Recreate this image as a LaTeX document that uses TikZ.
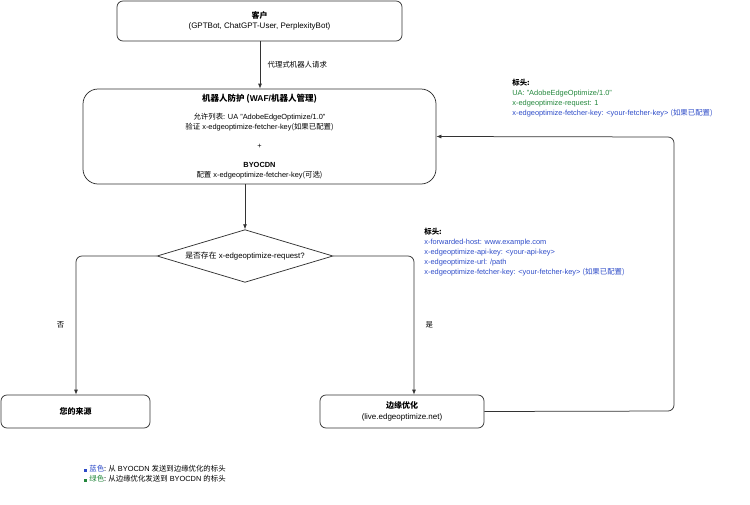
\documentclass[tikz,border=0pt]{standalone}
\usepackage{fontspec}
\setmainfont{Liberation Sans}
\newfontfamily\cjk{Noto Sans CJK SC}
\usetikzlibrary{shapes.geometric,arrows.meta}
\definecolor{hdrblue}{RGB}{45,75,200}
\definecolor{hdrgreen}{RGB}{35,135,60}
\tikzset{every picture/.style={line width=0.75pt}}
\tikzset{
  box/.style={draw=black!80,rounded corners=6pt,align=center,font=\fontsize{8}{10.5}\selectfont,inner sep=0pt},
  flow/.style={draw=black!80,-{Latex[length=5pt,width=4pt]},rounded corners=6pt},
  lbl/.style={font=\fontsize{7.4}{10}\selectfont,align=left,anchor=north west,inner sep=0pt},
}
\begin{document}
\begin{tikzpicture}[x=1pt,y=-1pt]
\useasboundingbox (0,0) rectangle (750,504);

% boxes
\node[box,minimum width=285pt,minimum height=40pt] (client) at (259.5,21) {{\cjk\bfseries 客户}\\(GPTBot, ChatGPT-User, PerplexityBot)};
\node[box,rounded corners=15pt,minimum width=353pt,minimum height=95pt] (waf) at (259.5,136.5) {};
\node[font=\fontsize{8.5}{10}\selectfont\bfseries] (waftitle) at (259.5,99) {{\cjk 机器人防护 (}WAF/{\cjk 机器人管理)}};
\node[align=center,font=\fontsize{7.4}{10}\selectfont] (waftext) at (259.5,146) {{\cjk 允许列表:} UA "AdobeEdgeOptimize/1.0"\\{\cjk 验证} x-edgeoptimize-fetcher-key{\cjk (如果已配置)}\\[9pt]+\\[9pt]{\bfseries BYOCDN}\\{\cjk 配置} x-edgeoptimize-fetcher-key{\cjk (可选)}};
\node[draw=black!80,diamond,aspect=2.85,inner sep=1pt,minimum width=176pt,font=\fontsize{7.8}{9}\selectfont] (check) at (245,256) {{\cjk 是否存在} x-edgeoptimize-request?};
\node[box,minimum width=149pt,minimum height=33pt] (origin) at (75.5,411.5) {\cjk\bfseries 您的来源};
\node[box,minimum width=164pt,minimum height=33pt] (edge) at (402,411.5) {{\cjk\bfseries 边缘优化}\\(live.edgeoptimize.net)};

% connectors
\coordinate (cl) at (76,256);
\coordinate (cr) at (414,256);
\coordinate (rb) at (674,411);
\coordinate (rt) at (674,137);
\draw[flow] (client.south -| 260,0) -- (waf.north -| 260,0) node[midway,right=4pt,font=\fontsize{7.4}{9}\selectfont\cjk] {代理式机器人请求};
\draw[flow] (waf.south -| check) -- (check.north);
\draw[flow] (check.west) -- (cl) -- (origin.north -| cl) node[pos=0.5,left=8pt,font=\fontsize{7.4}{9}\selectfont\cjk] {否};
\draw[flow] (check.east) -- (cr) -- (edge.north -| cr) node[pos=0.5,right=8pt,font=\fontsize{7.4}{9}\selectfont\cjk] {是};
\draw[flow] (edge.east) -- (rb) -- (rt) -- (waf.east);

% header notes
\node[lbl] (hdrtop) at (512,79) {{\cjk\bfseries 标头:}\\\textcolor{hdrgreen}{UA: "AdobeEdgeOptimize/1.0"}\\\textcolor{hdrgreen}{x-edgeoptimize-request: 1}\\\textcolor{hdrblue}{x-edgeoptimize-fetcher-key: <your-fetcher-key> {\cjk (如果已配置)}}};
\node[lbl] (hdrbot) at (424,228) {{\cjk\bfseries 标头:}\\\textcolor{hdrblue}{x-forwarded-host: www.example.com}\\\textcolor{hdrblue}{x-edgeoptimize-api-key: <your-api-key>}\\\textcolor{hdrblue}{x-edgeoptimize-url: /path}\\\textcolor{hdrblue}{x-edgeoptimize-fetcher-key: <your-fetcher-key> {\cjk (如果已配置)}}};

% legend
\node[lbl] (legend) at (84,465) {\textcolor{hdrblue}{\rule{3pt}{3pt} {\cjk 蓝色}}{\cjk : 从} BYOCDN {\cjk 发送到边缘优化的标头}\\\textcolor{hdrgreen}{\rule{3pt}{3pt} {\cjk 绿色}}{\cjk : 从边缘优化发送到} BYOCDN {\cjk 的标头}};
\end{tikzpicture}
\end{document}
